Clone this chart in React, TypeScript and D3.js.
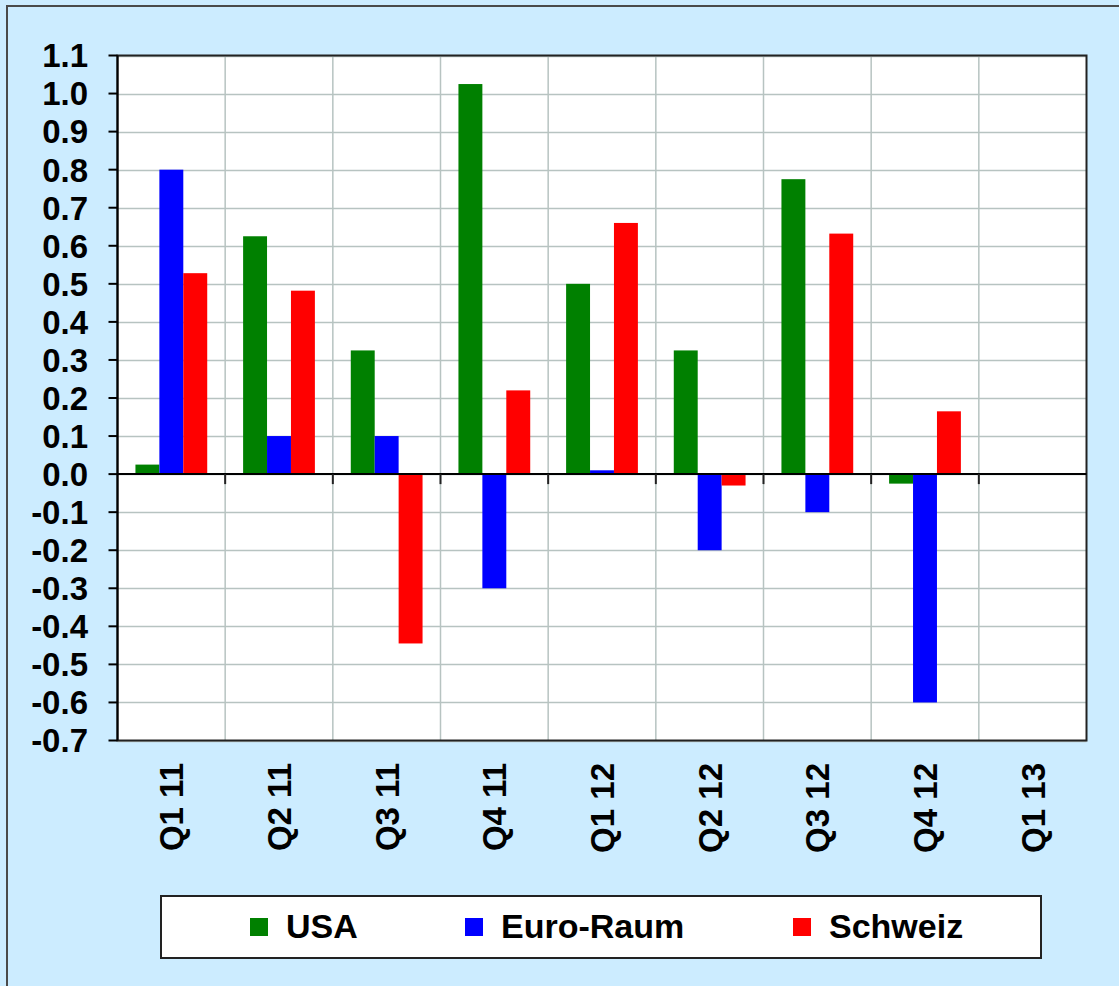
import { useEffect, useRef } from "react";
import * as d3 from "d3";

const categories = ["Q1 11", "Q2 11", "Q3 11", "Q4 11", "Q1 12", "Q2 12", "Q3 12", "Q4 12", "Q1 13"];
const seriesNames = ["USA", "Euro-Raum", "Schweiz"];
const seriesColors = ["#008000", "#0000FF", "#FF0000"];
const usaValues = [0.025, 0.625, 0.325, 1.025, 0.5, 0.325, 0.775, -0.025, null];
const euroValues = [0.8, 0.1, 0.1, -0.3, 0.01, -0.2, -0.1, -0.6, null];
const swissValues = [0.528, 0.482, -0.445, 0.22, 0.66, -0.03, 0.632, 0.165, null];
const yTicks = d3.range(-7, 12).map((v) => v / 10);

const W = 1119;
const H = 986;
const FONT = "'Liberation Sans', Arial, sans-serif";

export default function App() {
  const svgRef = useRef<SVGSVGElement>(null);

  useEffect(() => {
    if (!svgRef.current) return;
    const svg = d3.select(svgRef.current);
    svg.selectAll("*").remove();

    // background + outer frame
    svg.append("rect").attr("width", W).attr("height", H).attr("fill", "#CCECFF");
    svg
      .append("rect")
      .attr("x", 7)
      .attr("y", 6)
      .attr("width", W + 20)
      .attr("height", H + 20)
      .attr("fill", "none")
      .attr("stroke", "#4a4a4a")
      .attr("stroke-width", 2);

    const left = 117.5;
    const right = 1086.5;
    const top = 55.5;
    const bottom = 740.5;

    const x = d3.scaleBand<string>().domain(categories).range([left, right]);
    const y = d3.scaleLinear().domain([-0.7, 1.1]).range([bottom, top]);

    // plot area
    svg
      .append("rect")
      .attr("x", left)
      .attr("y", top)
      .attr("width", right - left)
      .attr("height", bottom - top)
      .attr("fill", "#fff");

    // horizontal gridlines
    svg
      .append("g")
      .selectAll("line")
      .data(yTicks)
      .join("line")
      .attr("x1", left)
      .attr("x2", right)
      .attr("y1", (d) => Math.round(y(d)) + 0.5)
      .attr("y2", (d) => Math.round(y(d)) + 0.5)
      .attr("stroke", "#B7C3C1")
      .attr("stroke-width", 1.5);

    // vertical gridlines at category boundaries
    const bounds = categories.slice(1).map((c) => x(c)!);
    svg
      .append("g")
      .selectAll("line")
      .data(bounds)
      .join("line")
      .attr("x1", (d) => d)
      .attr("x2", (d) => d)
      .attr("y1", top)
      .attr("y2", bottom)
      .attr("stroke", "#B7C3C1")
      .attr("stroke-width", 1.5);

    // bars
    const sub = d3
      .scaleBand<number>()
      .domain([0, 1, 2])
      .range([0, x.bandwidth()])
      .paddingOuter(0.75)
      .paddingInner(0);

    const series = [usaValues, euroValues, swissValues];
    series.forEach((vals, si) => {
      svg
        .append("g")
        .selectAll("rect")
        .data(vals.map((v, i) => ({ v, c: categories[i] })).filter((d) => d.v !== null))
        .join("rect")
        .attr("x", (d) => x(d.c)! + sub(si)!)
        .attr("width", sub.bandwidth())
        .attr("y", (d) => y(Math.max(0, d.v as number)))
        .attr("height", (d) => Math.abs(y(d.v as number) - y(0)))
        .attr("fill", seriesColors[si]);
    });

    // plot frame
    svg
      .append("rect")
      .attr("x", left)
      .attr("y", top)
      .attr("width", right - left)
      .attr("height", bottom - top)
      .attr("fill", "none")
      .attr("stroke", "#222")
      .attr("stroke-width", 2);

    // y axis
    const yAxis = svg.append("g");
    yAxis
      .append("line")
      .attr("x1", left)
      .attr("x2", left)
      .attr("y1", top)
      .attr("y2", bottom)
      .attr("stroke", "#000")
      .attr("stroke-width", 2);
    yAxis
      .selectAll("line.tick")
      .data(yTicks)
      .join("line")
      .attr("class", "tick")
      .attr("x1", left - 9)
      .attr("x2", left)
      .attr("y1", (d) => y(d))
      .attr("y2", (d) => y(d))
      .attr("stroke", "#000")
      .attr("stroke-width", 2);
    yAxis
      .selectAll("text")
      .data(yTicks)
      .join("text")
      .attr("x", 88)
      .attr("y", (d) => y(d))
      .attr("dy", "0.36em")
      .attr("text-anchor", "end")
      .attr("font-family", FONT)
      .attr("font-weight", "bold")
      .attr("font-size", 33)
      .text((d) => d3.format(".1f")(d).replace("−", "-"));

    // zero line with ticks
    const y0 = y(0);
    svg
      .append("line")
      .attr("x1", left)
      .attr("x2", right)
      .attr("y1", y0)
      .attr("y2", y0)
      .attr("stroke", "#000")
      .attr("stroke-width", 2);
    svg
      .append("g")
      .selectAll("line")
      .data(bounds)
      .join("line")
      .attr("x1", (d) => d)
      .attr("x2", (d) => d)
      .attr("y1", y0)
      .attr("y2", y0 + 10)
      .attr("stroke", "#222")
      .attr("stroke-width", 2);

    // category labels, rotated
    svg
      .append("g")
      .selectAll("text")
      .data(categories)
      .join("text")
      .attr("transform", (d) => `translate(${x(d)! + x.bandwidth() / 2 + 12},763) rotate(-90)`)
      .attr("text-anchor", "end")
      .attr("font-family", FONT)
      .attr("font-weight", "bold")
      .attr("font-size", 33)
      .text((d) => d);

    // legend
    const lg = svg.append("g");
    lg.append("rect")
      .attr("x", 161)
      .attr("y", 896)
      .attr("width", 880)
      .attr("height", 62)
      .attr("fill", "#fff")
      .attr("stroke", "#222")
      .attr("stroke-width", 2);
    const legendX = [250, 465, 793];
    seriesNames.forEach((name, i) => {
      lg.append("rect")
        .attr("x", legendX[i])
        .attr("y", 918)
        .attr("width", 18)
        .attr("height", 18)
        .attr("fill", seriesColors[i]);
      lg.append("text")
        .attr("x", legendX[i] + 36)
        .attr("y", 938)
        .attr("font-family", FONT)
        .attr("font-weight", "bold")
        .attr("font-size", 34)
        .text(name);
    });
  }, []);

  return (
    <svg
      ref={svgRef}
      width={W}
      height={H}
      style={{ position: "absolute", left: 0, top: 0, display: "block" }}
    />
  );
}
